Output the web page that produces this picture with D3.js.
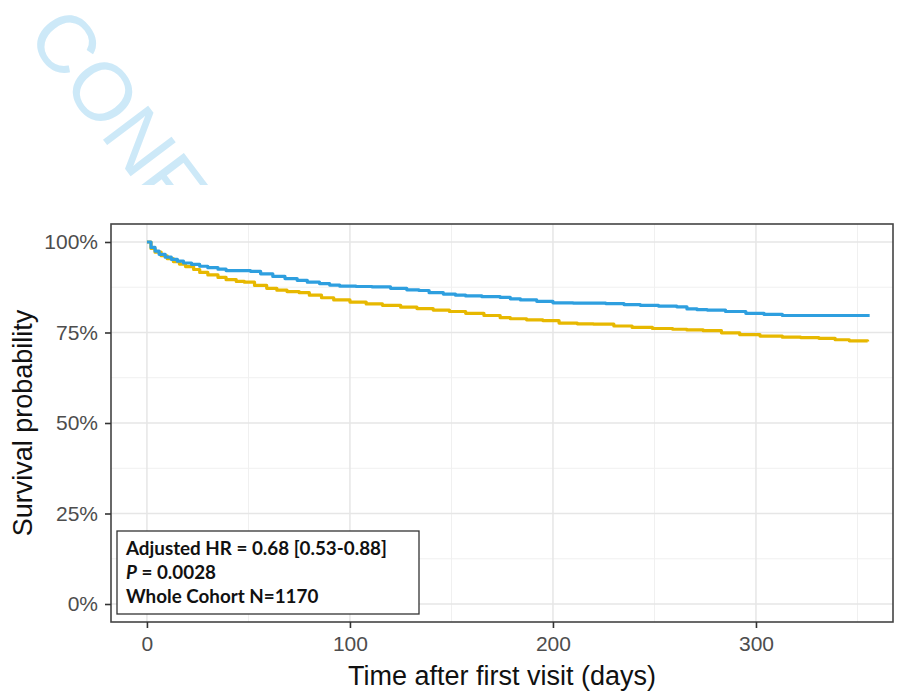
<!DOCTYPE html>
<html><head><meta charset="utf-8">
<script src="https://cdn.jsdelivr.net/npm/d3@7"></script>
<style>body{margin:0;background:#fff}svg{display:block}</style>
</head><body>
<svg id="c" width="905" height="697"></svg>
<script>
// ---- data ----
const blueTimes = [0,2,4,6,9,12,15,18,22,26,30,35,39,45,51,56,62,68,74,79,85,90,95,103,111,120,128,134,139,146,152,157,165,174,179,184,192,200,210,226,235,243,252,261,266,271,276,285,295,304,313,356];
const blueSurv  = [1.0,0.985,0.975,0.966,0.958,0.952,0.947,0.942,0.938,0.933,0.929,0.925,0.921,0.921,0.919,0.912,0.905,0.899,0.894,0.889,0.885,0.881,0.878,0.877,0.876,0.872,0.868,0.866,0.860,0.856,0.853,0.851,0.849,0.847,0.843,0.840,0.836,0.832,0.831,0.830,0.827,0.825,0.823,0.821,0.815,0.813,0.812,0.808,0.803,0.800,0.797,0.797];
const yellowTimes = [0,2,4,7,10,13,16,19,23,26,30,35,39,44,48,53,59,64,69,75,80,86,92,100,108,116,125,133,141,149,157,166,174,179,187,195,203,212,220,230,239,249,259,266,274,283,292,302,313,322,331,339,346,355];
const yellowSurv  = [1.0,0.982,0.972,0.962,0.954,0.946,0.939,0.932,0.924,0.916,0.909,0.902,0.896,0.891,0.889,0.880,0.872,0.867,0.863,0.860,0.853,0.846,0.840,0.834,0.829,0.825,0.820,0.816,0.812,0.808,0.803,0.797,0.791,0.788,0.785,0.783,0.776,0.774,0.773,0.768,0.764,0.761,0.759,0.757,0.755,0.749,0.744,0.740,0.737,0.736,0.734,0.730,0.727,0.725];
const xTicks = [0,100,200,300];
const xMinor = [50,150,250,350];
const yTicks = [0,0.25,0.5,0.75,1];
const yMinor = [0.125,0.375,0.625,0.875];
const yTickLabels = ["0%","25%","50%","75%","100%"];
const seriesColors = ["#2E9FDF","#E7B800"];
const annotLines = ["Adjusted HR = 0.68 [0.53-0.88]","= 0.0028","Whole Cohort N=1170"];
const xTitle = "Time after first visit (days)";
const yTitle = "Survival probability";
const watermark = "CONF";

const svg = d3.select("#c");

// watermark (cut off by the chart image below it)
svg.append("clipPath").attr("id","wm").append("rect").attr("x",0).attr("y",0).attr("width",905).attr("height",185);
svg.append("g").attr("clip-path","url(#wm)")
  .append("text")
  .attr("transform","translate(25,36) rotate(53)")
  .attr("font-family","Liberation Sans, Arial, sans-serif").attr("font-size",82)
  .attr("fill","#cde9f8").text(watermark);

const L=111, R=893, T=224, B=622;
const x = d3.scaleLinear().domain([-17.7,367.5]).range([L,R]);
const y = d3.scaleLinear().domain([-0.0497,1.0497]).range([B,T]);

const g = svg.append("g");
g.append("rect").attr("x",L).attr("y",T).attr("width",R-L).attr("height",B-T).attr("fill","#fff");
// minor grid
g.selectAll(".mx").data(xMinor).join("line").attr("x1",d=>x(d)).attr("x2",d=>x(d)).attr("y1",T).attr("y2",B).attr("stroke","#F0F0F0").attr("stroke-width",1);
g.selectAll(".my").data(yMinor).join("line").attr("y1",d=>y(d)).attr("y2",d=>y(d)).attr("x1",L).attr("x2",R).attr("stroke","#F0F0F0").attr("stroke-width",1);
// major grid
g.selectAll(".gx").data(xTicks).join("line").attr("x1",d=>x(d)).attr("x2",d=>x(d)).attr("y1",T).attr("y2",B).attr("stroke","#E6E6E6").attr("stroke-width",1.5);
g.selectAll(".gy").data(yTicks).join("line").attr("y1",d=>y(d)).attr("y2",d=>y(d)).attr("x1",L).attr("x2",R).attr("stroke","#E6E6E6").attr("stroke-width",1.5);

// curves
const line = d3.line().x(d=>x(d[0])).y(d=>y(d[1])).curve(d3.curveStepAfter);
const series = [d3.zip(blueTimes,blueSurv), d3.zip(yellowTimes,yellowSurv)];
g.selectAll(".curve").data([series[1], series[0]]).join("path")
  .attr("d",line).attr("fill","none").attr("stroke",(d,i)=>seriesColors[1-i])
  .attr("stroke-width",3.2).attr("stroke-linejoin","round");

// border
g.append("rect").attr("x",L).attr("y",T).attr("width",R-L).attr("height",B-T).attr("fill","none").attr("stroke","#444").attr("stroke-width",1.6);

// axes
const xAxis = d3.axisBottom(x).tickValues(xTicks).tickSize(6).tickPadding(8).tickFormat(d3.format("d"));
const yAxis = d3.axisLeft(y).tickValues(yTicks).tickSize(6).tickPadding(7).tickFormat((d,i)=>yTickLabels[i]);
const ax = svg.append("g").attr("transform",`translate(0,${B})`).call(xAxis);
const ay = svg.append("g").attr("transform",`translate(${L},0)`).call(yAxis);
[ax,ay].forEach(a=>{
  a.select(".domain").remove();
  a.selectAll(".tick line").attr("stroke","#333").attr("stroke-width",1.6);
  a.selectAll(".tick text").attr("fill","#4D4D4D").attr("font-family","Liberation Sans, Arial, sans-serif").attr("font-size",21);
});

// axis titles
svg.append("text").attr("x",(L+R)/2).attr("y",685).attr("text-anchor","middle")
  .attr("font-family","Liberation Sans, Arial, sans-serif").attr("font-size",27).attr("fill","#111").text(xTitle);
svg.append("text").attr("transform",`translate(32,${(T+B)/2}) rotate(-90)`).attr("text-anchor","middle")
  .attr("font-family","Liberation Sans, Arial, sans-serif").attr("font-size",27).attr("fill","#111").text(yTitle);

// annotation box
const bx=117, by=531, bw=302, bh=83;
svg.append("rect").attr("x",bx).attr("y",by).attr("width",bw).attr("height",bh).attr("fill","#fff").attr("stroke","#333").attr("stroke-width",1.3);
const af = "Lato, Open Sans, sans-serif";
const t1 = svg.append("text").attr("x",126).attr("y",555).attr("font-family",af).attr("font-weight","bold").attr("font-size",17).attr("fill","#111").text(annotLines[0]);
const t2 = svg.append("text").attr("x",126).attr("y",579).attr("font-family",af).attr("font-weight","bold").attr("font-size",17).attr("fill","#111");
t2.append("tspan").attr("font-style","italic").text("P");
t2.append("tspan").text(" " + annotLines[1]);
const t3 = svg.append("text").attr("x",126).attr("y",603).attr("font-family",af).attr("font-weight","bold").attr("font-size",17).attr("fill","#111").text(annotLines[2]);
const w = t1.node().getComputedTextLength();
const fs = 17*261/w;
[t1,t2,t3].forEach(t=>t.attr("font-size",fs));
</script>
</body></html>
